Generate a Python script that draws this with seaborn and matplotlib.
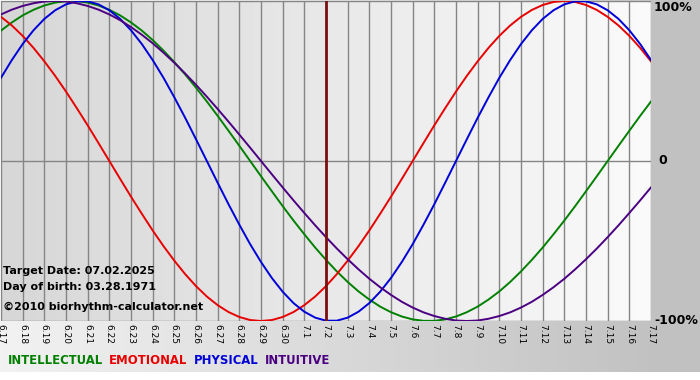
import numpy as np
import pandas as pd
import seaborn as sns
import matplotlib.pyplot as plt

# day labels, 6.17 .. 7.17
days = ["6.17", "6.18", "6.19", "6.20", "6.21", "6.22", "6.23", "6.24", "6.25",
        "6.26", "6.27", "6.28", "6.29", "6.30", "7.1", "7.2", "7.3", "7.4", "7.5",
        "7.6", "7.7", "7.8", "7.9", "7.10", "7.11", "7.12", "7.13", "7.14", "7.15",
        "7.16", "7.17"]

# values read every half day, from 6.17 to 7.17
intellectual = [0.815, 0.866, 0.910, 0.945, 0.972, 0.990, 0.999, 0.999, 0.990, 0.972,
                0.945, 0.910, 0.866, 0.815, 0.756, 0.690, 0.618, 0.541, 0.458, 0.372,
                0.282, 0.189, 0.095, 0.000, -0.095, -0.189, -0.282, -0.372, -0.458, -0.541,
                -0.618, -0.690, -0.756, -0.815, -0.866, -0.910, -0.945, -0.972, -0.990, -0.999,
                -0.999, -0.990, -0.972, -0.945, -0.910, -0.866, -0.815, -0.756, -0.690, -0.618,
                -0.541, -0.458, -0.372, -0.282, -0.189, -0.095, 0.000, 0.095, 0.189, 0.282,
                0.372]
emotional = [0.901, 0.847, 0.782, 0.707, 0.623, 0.532, 0.434, 0.330, 0.223, 0.112, 0.000,
             -0.112, -0.223, -0.330, -0.434, -0.532, -0.623, -0.707, -0.782, -0.847, -0.901,
             -0.944, -0.975, -0.994, -1.000, -0.994, -0.975, -0.944, -0.901, -0.847, -0.782,
             -0.707, -0.623, -0.532, -0.434, -0.330, -0.223, -0.112, 0.000, 0.112, 0.223,
             0.330, 0.434, 0.532, 0.623, 0.707, 0.782, 0.847, 0.901, 0.944, 0.975,
             0.994, 1.000, 0.994, 0.975, 0.944, 0.901, 0.847, 0.782, 0.707, 0.623]
physical = [0.520, 0.631, 0.731, 0.817, 0.888, 0.942, 0.979, 0.998, 0.998, 0.979,
            0.942, 0.888, 0.817, 0.731, 0.631, 0.520, 0.398, 0.270, 0.136, 0.000,
            -0.136, -0.270, -0.398, -0.520, -0.631, -0.731, -0.817, -0.888, -0.942, -0.979,
            -0.998, -0.998, -0.979, -0.942, -0.888, -0.817, -0.731, -0.631, -0.520, -0.398,
            -0.270, -0.136, 0.000, 0.136, 0.270, 0.398, 0.520, 0.631, 0.731, 0.817,
            0.888, 0.942, 0.979, 0.998, 0.998, 0.979, 0.942, 0.888, 0.817, 0.731,
            0.631]
intuitive = [0.916, 0.946, 0.969, 0.986, 0.997, 1.000, 0.997, 0.986, 0.969, 0.946,
             0.916, 0.880, 0.837, 0.789, 0.736, 0.677, 0.614, 0.547, 0.476, 0.402,
             0.325, 0.246, 0.165, 0.083, 0.000, -0.083, -0.165, -0.246, -0.325, -0.402,
             -0.476, -0.547, -0.614, -0.677, -0.736, -0.789, -0.837, -0.880, -0.916, -0.946,
             -0.969, -0.986, -0.997, -1.000, -0.997, -0.986, -0.969, -0.946, -0.916, -0.880,
             -0.837, -0.789, -0.736, -0.677, -0.614, -0.547, -0.476, -0.402, -0.325, -0.246,
             -0.165]

target_day = "7.2"
names = ["INTELLECTUAL", "EMOTIONAL", "PHYSICAL", "INTUITIVE"]
colors = ["#008000", "#e80000", "#0000d8", "#4b0082"]

rows = []
for name, vals in zip(names, [intellectual, emotional, physical, intuitive]):
    for i, v in enumerate(vals):
        rows.append({"day": i / 2, "value": v, "rhythm": name})
df = pd.DataFrame(rows)

W, H = 700, 380
fig = plt.figure(figsize=(W / 100, H / 100), dpi=100)
fig.patch.set_facecolor("white")

# background of the whole image
bg = fig.add_axes([0, 0, 1, 1], zorder=0)
bg.set_axis_off()
grad = np.ones((H, W, 3))
xs = np.arange(W)
shade = np.where(xs < 651, 0.95 - (0.95 - 0.76) * xs / 651, 0.76)
grad[:, :, :] = shade[None, :, None]
grad[372:, :, :] = 1.0
bg.imshow(grad, aspect="auto", extent=[0, W, H, 0])
bg.set_xlim(0, W)
bg.set_ylim(H, 0)

x0, x1 = 1, 651
y0, y1 = 1, 321
ax = fig.add_axes([x0 / W, 1 - y1 / H, (x1 - x0) / W, (y1 - y0) / H], zorder=1)

# plot area gradient
pg = np.linspace(0.84, 0.98, 200)
ax.imshow(np.tile(pg, (2, 1)), cmap="gray", vmin=0, vmax=1, aspect="auto",
          extent=[0, len(days) - 1, -1, 1], zorder=0)

for i in range(len(days)):
    ax.axvline(i, color="#858585", lw=1, zorder=1)
for yv in [-1, 0, 1]:
    ax.axhline(yv, color="#858585", lw=1, zorder=1)
ax.axvline(days.index(target_day), color="#7a1010", lw=2, zorder=3)

sns.lineplot(data=df, x="day", y="value", hue="rhythm", hue_order=names,
             palette=colors, lw=1.4, legend=False, ax=ax, zorder=2)

ax.set_xlim(0, len(days) - 1)
ax.set_ylim(-1, 1)
ax.set_xticks(range(len(days)))
ax.set_xticklabels(days, rotation=270, fontsize=6.5)
ax.tick_params(axis="x", length=0, pad=2)
ax.set_yticks([])
ax.set_xlabel("")
ax.set_ylabel("")
for s in ax.spines.values():
    s.set_visible(False)

# right side labels
fig.text(654 / W, 1 - 1 / H, "100%", fontsize=9, fontweight="bold",
         va="top", ha="left", zorder=5)
fig.text(658 / W, 1 - 161 / H, "0", fontsize=9, fontweight="bold",
         va="center", ha="left", zorder=5)
fig.text(654 / W, 1 - 321 / H, "-100%", fontsize=9, fontweight="bold",
         va="center", ha="left", zorder=5)

# info text
fig.text(3 / W, 1 - 271 / H, "Target Date: 07.02.2025", fontsize=8,
         fontweight="bold", va="center", zorder=5)
fig.text(3 / W, 1 - 287 / H, "Day of birth: 03.28.1971", fontsize=8,
         fontweight="bold", va="center", zorder=5)
fig.text(3 / W, 1 - 307 / H, "\u00a92010 biorhythm-calculator.net", fontsize=8,
         fontweight="bold", va="center", zorder=5)

# colored legend
xpos = 8
for name, c in zip(names, colors):
    t = fig.text(xpos / W, 1 - 361 / H, name, color=c, fontsize=8.4,
                 fontweight="bold", va="center", zorder=5)
    fig.canvas.draw()
    bb = t.get_window_extent()
    xpos = bb.x1 + 6

fig.savefig("out.png", dpi=100)
